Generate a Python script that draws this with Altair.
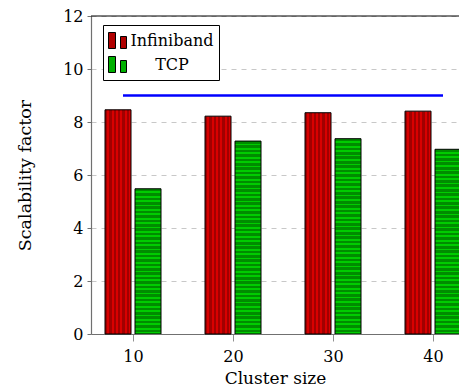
import altair as alt
import pandas as pd

clusters = [10, 20, 30, 40]
infiniband = [8.46, 8.22, 8.35, 8.41]
tcp = [5.48, 7.28, 7.37, 6.97]
series = ["Infiniband", "TCP"]
ideal_value = [9.0]
ideal_start = [9.0]
ideal_end = [41.0]

FONT = "DejaVu Serif"
PLOT_W, PLOT_H = 368, 318
Y_MAX = 12
PX_PER_UNIT = PLOT_H / Y_MAX

rows = []
for c, a, b in zip(clusters, infiniband, tcp):
    rows.append({"cluster": c, "series": "Infiniband", "value": a})
    rows.append({"cluster": c, "series": "TCP", "value": b})
df = pd.DataFrame(rows)

ideal_df = pd.DataFrame({"y": ideal_value, "x": ideal_start, "x2": ideal_end})
legend_df = pd.DataFrame({"series": series, "cluster": [clusters[0]] * 2, "value": [0, 0]})

x_scale = alt.Scale(domain=[5.8, 42.6], nice=False, zero=False, padding=0)
y_scale = alt.Scale(domain=[0, Y_MAX], nice=False, padding=0)


def stripe_stops(n, dark, light, frac_dark=0.6):
    stops = []
    for k in range(n):
        a = k / n
        m = (k + frac_dark) / n
        e = (k + 1) / n
        stops += [
            alt.GradientStop(offset=a, color=dark),
            alt.GradientStop(offset=m, color=dark),
            alt.GradientStop(offset=m, color=light),
            alt.GradientStop(offset=e, color=light),
        ]
    return stops


red_fill = alt.LinearGradient(
    gradient="linear",
    stops=stripe_stops(6, "#a00000", "#d80000", 0.55),
    x1=0, x2=1, y1=0, y2=0,
)

base = alt.Chart(df)

x_axis = alt.Axis(
    values=clusters, title="Cluster size", grid=False,
    domainColor="#707070", domainWidth=1.2, tickColor="#909090", tickSize=7,
    labelPadding=7, labelFont=FONT, labelFontSize=16, labelColor="black",
    titleFont=FONT, titleFontSize=17, titleFontWeight="normal", titleColor="black",
    titlePadding=6,
)
y_axis = alt.Axis(
    values=list(range(0, Y_MAX + 1, 2)), title="Scalability factor",
    grid=True, gridDash=[5, 5], gridColor="#c8c8c8", gridWidth=1,
    domainColor="#707070", domainWidth=1.2, tickColor="#707070", tickSize=4,
    labelPadding=4, labelFont=FONT, labelFontSize=16, labelColor="black",
    titleFont=FONT, titleFontSize=17.5, titleFontWeight="normal", titleColor="black",
    titlePadding=28,
)

red = base.transform_filter(alt.datum.series == "Infiniband").transform_calculate(
    x0="datum.cluster - 2.8", x1="datum.cluster - 0.2"
).mark_bar(fill=red_fill, stroke="black", strokeWidth=1).encode(
    x=alt.X("x0:Q", scale=x_scale, axis=x_axis),
    x2="x1:Q",
    y=alt.Y("value:Q", scale=y_scale, axis=y_axis),
    y2=alt.datum(0),
)

layers = [red]
for c, v in zip(clusters, tcp):
    n = max(1, round(v * PX_PER_UNIT / 4.4))
    g_fill = alt.LinearGradient(
        gradient="linear",
        stops=stripe_stops(n, "#008c00", "#00cc00", 0.6),
        x1=0, x2=0, y1=0, y2=1,
    )
    layers.append(
        base.transform_filter((alt.datum.series == "TCP") & (alt.datum.cluster == c))
        .transform_calculate(x0="datum.cluster + 0.2", x1="datum.cluster + 2.8")
        .mark_bar(fill=g_fill, stroke="black", strokeWidth=1, clip=True)
        .encode(
            x=alt.X("x0:Q", scale=x_scale), x2="x1:Q",
            y=alt.Y("value:Q", scale=y_scale), y2=alt.datum(0),
        )
    )

rule = alt.Chart(ideal_df).mark_rule(color="#0000ff", strokeWidth=2.5).encode(
    x=alt.X("x:Q", scale=x_scale), x2="x2:Q", y=alt.Y("y:Q", scale=y_scale)
)
layers.append(rule)

top_border = alt.Chart(ideal_df).mark_rule(color="black", strokeWidth=1.2).encode(
    x=alt.value(0), x2=alt.value(PLOT_W), y=alt.datum(Y_MAX)
)
layers.append(top_border)

symbol_path = "M-1,-0.8H-0.3V0.8H-1Z M0.2,-0.4H0.8V0.8H0.2Z"
legend_layer = alt.Chart(legend_df).mark_square(opacity=0).encode(
    x=alt.X("cluster:Q", scale=x_scale),
    y=alt.Y("value:Q", scale=y_scale),
    color=alt.Color(
        "series:N",
        scale=alt.Scale(domain=series, range=["#b00000", "#00b000"]),
        legend=alt.Legend(
            title=None, orient="none", legendX=12, legendY=9,
            symbolType=symbol_path, symbolSize=400, symbolOpacity=1,
            symbolStrokeColor="black", symbolStrokeWidth=1,
            labelFont=FONT, labelFontSize=16, labelColor="black",
            labelAlign="center", labelOffset=43,
            strokeColor="black", fillColor="white", padding=5,
            rowPadding=3,
        ),
    ),
)
layers.append(legend_layer)

chart = alt.layer(*layers).properties(
    width=PLOT_W, height=PLOT_H,
    autosize=alt.AutoSizeParams(type="none"),
    padding={"left": 83, "top": 8, "right": 0, "bottom": 52},
).configure_view(stroke=None)

chart.save("out.html", embed_options={"renderer": "svg", "actions": False})
